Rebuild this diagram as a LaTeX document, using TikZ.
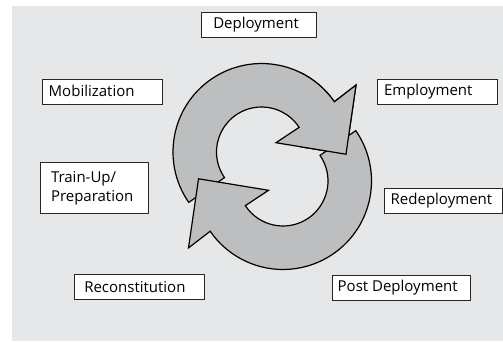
\documentclass[tikz,border=0pt]{standalone}
\usepackage{fontspec}
\setmainfont{Open Sans}
\definecolor{bgcol}{HTML}{E6E7E8}
\definecolor{arrowcol}{HTML}{BCBEC0}
\newcommand\lbltext[2]{\makebox[#1][l]{#2}}
\newcommand\cyclearrowpath{(214.7:88.5pt) arc[start angle=214.7, end angle=34.6, radius=88.5pt] -- (35.3:115.8pt) -- (-1.5:84.5pt) -- (32.7:17.2pt) -- (33.2:45pt) arc[start angle=33.2, end angle=214.7, radius=45pt] -- cycle}
\begin{document}
\begin{tikzpicture}[x=1pt,y=1pt,
  lblbox/.style={draw=black!85, line width=0.7pt, fill=white, minimum height=25pt, inner ysep=0pt, font=\fontsize{15}{19}\selectfont},
  cyc/.style={fill=arrowcol, draw=black, line width=1.2pt, line join=miter}]
\useasboundingbox (0,0) rectangle (503,341);
\fill[bgcol] (12,0) rectangle (503,335);
% cycle arrows
\begin{scope}[shift={(261.5,189)}]
  \path[cyc] \cyclearrowpath;
\end{scope}
\begin{scope}[shift={(283,160)}, rotate=180]
  \path[cyc] \cyclearrowpath;
\end{scope}
\begin{scope}
  \clip (300,120) rectangle (420,341);
  \begin{scope}[shift={(261.5,189)}]
    \path[cyc] \cyclearrowpath;
  \end{scope}
\end{scope}
% labels
\node[lblbox, inner xsep=11.6pt] (dep) at (258.85,316.2) {\lbltext{91.1pt}{Deployment}};
\node[lblbox, inner xsep=6.7pt] (mob) at (102,249.65) {\lbltext{106.6pt}{Mobilization}};
\node[lblbox, inner xsep=7pt] (emp) at (437,249.65) {\lbltext{106pt}{Employment}};
\node[lblbox, inner xsep=10.7pt, minimum height=51pt, text width=86.6pt, align=left] (train) at (94.3,153.2) {Train-Up/\\Preparation};
\node[lblbox, inner xsep=6.4pt] (redep) at (443.3,140.65) {\lbltext{105.2pt}{Redeployment}};
\node[lblbox, inner xsep=10pt] (recon) at (139.5,54.2) {\lbltext{110.4pt}{Reconstitution}};
\node[lblbox, inner xsep=5.4pt] (post) at (401.15,53.5) {\lbltext{126.9pt}{Post Deployment}};
\end{tikzpicture}
\end{document}
